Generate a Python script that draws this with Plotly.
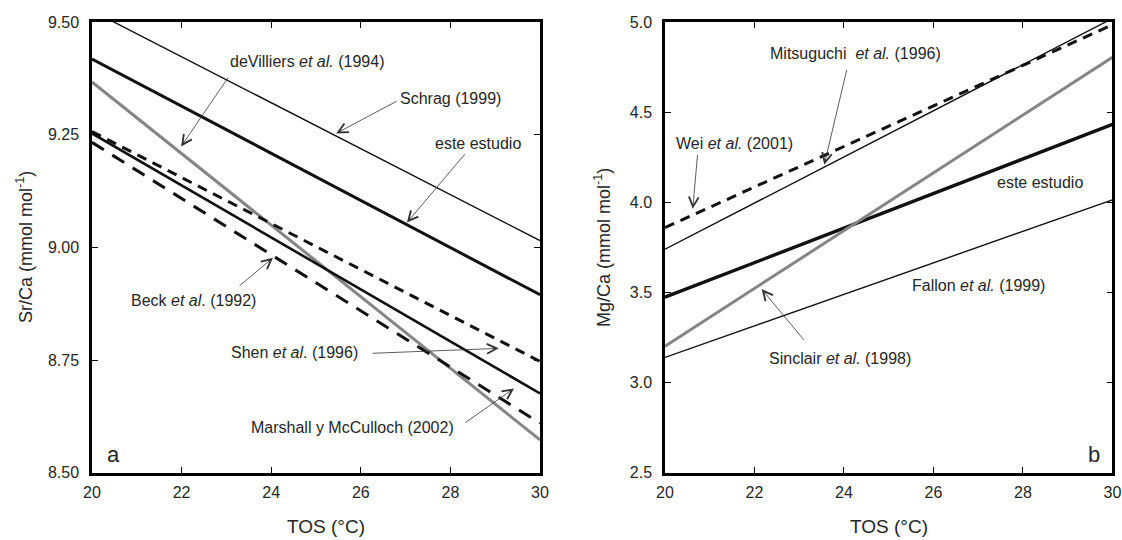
import plotly.graph_objects as go

# ---------------- data ----------------
temp = [20, 30]

# panel a: Sr/Ca (mmol/mol)
sr_schrag = [9.525, 9.015]
sr_este = [9.418, 8.895]
sr_devilliers = [9.367, 8.573]
sr_shen = [9.257, 8.747]
sr_marshall = [9.253, 8.676]
sr_beck = [9.233, 8.610]

# panel b: Mg/Ca (mmol/mol)
mg_wei = [3.860, 4.985]
mg_mitsuguchi = [3.740, 5.020]
mg_este = [3.474, 4.432]
mg_sinclair = [3.202, 4.805]
mg_fallon = [3.140, 4.014]

x_ticks = [20, 22, 24, 26, 28, 30]
sr_ticks = [8.50, 8.75, 9.00, 9.25, 9.50]
mg_ticks = [2.5, 3.0, 3.5, 4.0, 4.5, 5.0]

FONT = "Liberation Sans, Arial, sans-serif"
GRAY = "#858585"
BLACK = "#111111"
TXT = "#262626"

W, H = 1122, 540
# effective drawing box observed in the screenshot (8px page margin)
OFF, WE, HE = 8, 1104, 521
def px(x):
    return min((x - OFF) / WE, 0.9995)
def py(y):
    return 1 - (y - OFF) / HE

fig = go.Figure()

def line(x, y, xa, ya, color, width, dash="solid"):
    fig.add_trace(go.Scatter(x=x, y=y, mode="lines", xaxis=xa, yaxis=ya,
                             line=dict(color=color, width=width, dash=dash),
                             hoverinfo="skip", showlegend=False))

# panel a
line(temp, sr_schrag, "x", "y", BLACK, 1.4)
line(temp, sr_este, "x", "y", BLACK, 3.0)
line(temp, sr_devilliers, "x", "y", GRAY, 3.0)
line(temp, sr_shen, "x", "y", BLACK, 3.0, "10px,7px")
line(temp, sr_marshall, "x", "y", BLACK, 2.6)
line(temp, sr_beck, "x", "y", BLACK, 3.0, "14px,10px")

# panel b
line(temp, mg_wei, "x2", "y2", BLACK, 3.0, "10px,7px")
line(temp, mg_mitsuguchi, "x2", "y2", BLACK, 1.4)
line(temp, mg_este, "x2", "y2", BLACK, 3.4)
line(temp, mg_sinclair, "x2", "y2", GRAY, 3.0)
line(temp, mg_fallon, "x2", "y2", BLACK, 1.4)

axis_common = dict(showline=True, linecolor="black", linewidth=2.5, mirror="ticks",
                   ticks="inside", ticklen=6, tickwidth=1, tickcolor="black",
                   showgrid=False, zeroline=False,
                   tickfont=dict(family=FONT, size=16, color=TXT))

fig.update_layout(
    width=W, height=H,
    margin=dict(l=0, r=0, t=0, b=0),
    paper_bgcolor="white", plot_bgcolor="white",
    font=dict(family=FONT, color=TXT),
    xaxis=dict(domain=[px(91), px(539)], range=[20, 30], tickvals=x_ticks,
               anchor="y", ticklabelstandoff=3, **axis_common),
    yaxis=dict(domain=[py(471), py(22)], range=[8.5, 9.5], tickvals=sr_ticks,
               tickformat=".2f", anchor="x", ticklabelstandoff=7, **axis_common),
    xaxis2=dict(domain=[px(664), px(1114)], range=[20, 30], tickvals=x_ticks,
                anchor="y2", ticklabelstandoff=3, **axis_common),
    yaxis2=dict(domain=[py(471), py(22)], range=[2.5, 5.0], tickvals=mg_ticks,
                tickformat=".1f", anchor="x2", ticklabelstandoff=7, **axis_common),
)

ann = []
def text(x, y, s, xr, yr, size=16, xanchor="left"):
    ann.append(dict(x=x, y=y, xref=xr, yref=yr, text=s, showarrow=False,
                    xanchor=xanchor, yanchor="middle",
                    font=dict(family=FONT, size=size, color=TXT)))

def arrow(tx, ty, hx, hy, xr, yr):
    ann.append(dict(x=hx, y=hy, ax=tx, ay=ty, xref=xr, yref=yr, axref=xr, ayref=yr,
                    text="", showarrow=True, arrowhead=5, arrowsize=2.4,
                    arrowwidth=0.8, arrowcolor="#333", standoff=0, startstandoff=0))

# panel a labels
text(23.04, 9.413, "deVilliers <i>et al.</i> (1994)", "x", "y")
arrow(23.06, 9.380, 21.99, 9.224, "x", "y")
text(26.83, 9.331, "Schrag (1999)", "x", "y")
arrow(26.83, 9.326, 25.45, 9.253, "x", "y")
text(27.61, 9.2305, "este estudio", "x", "y")
arrow(28.35, 9.210, 27.03, 9.055, "x", "y")
text(20.83, 8.883, "Beck <i>et al</i>. (1992)", "x", "y")
arrow(23.26, 8.912, 24.04, 8.977, "x", "y")
text(23.06, 8.767, "Shen <i>et al</i>. (1996)", "x", "y")
arrow(26.23, 8.765, 29.08, 8.776, "x", "y")
text(23.50, 8.600, "Marshall y McCulloch (2002)", "x", "y")
arrow(28.30, 8.609, 29.42, 8.687, "x", "y")
text(20.47, 8.540, "a", "x", "y", size=22, xanchor="center")

# panel b labels
text(22.31, 4.827, "Mitsuguchi  <i>et al.</i> (1996)", "x2", "y2")
arrow(24.07, 4.744, 23.56, 4.209, "x2", "y2")
text(20.20, 4.326, "Wei <i>et al.</i> (2001)", "x2", "y2")
arrow(20.73, 4.271, 20.62, 3.964, "x2", "y2")
text(27.38, 4.109, "este estudio", "x2", "y2")
text(25.47, 3.536, "Fallon <i>et al.</i> (1999)", "x2", "y2")
text(22.29, 3.135, "Sinclair <i>et al.</i> (1998)", "x2", "y2")
arrow(23.13, 3.229, 22.16, 3.519, "x2", "y2")
text(29.58, 2.600, "b", "x2", "y2", size=22, xanchor="center")

# axis titles
def title(x, y, s, angle=0, size=19):
    ann.append(dict(x=x, y=y, xref="paper", yref="paper", text=s, showarrow=False,
                    xanchor="center", yanchor="middle", textangle=angle,
                    font=dict(family=FONT, size=size, color=TXT)))

title(px(325), py(525), "TOS (°C)")
title(px(888), py(525), "TOS (°C)")
title(px(24), py(246), "Sr/Ca (mmol mol<sup>-1</sup>)", -90, 18)
title(px(602), py(246), "Mg/Ca (mmol mol<sup>-1</sup>)", -90, 18)

fig.update_layout(annotations=ann)
fig.write_html("out.html")
